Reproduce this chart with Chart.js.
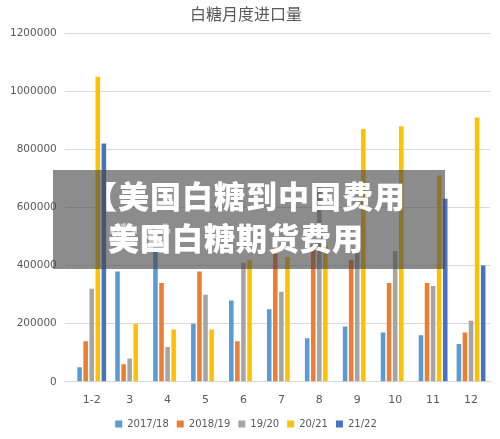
<!DOCTYPE html><html><head><meta charset="utf-8">
<script src="https://cdn.jsdelivr.net/npm/chart.js@4"></script>
<style>body{margin:0;background:#fff;width:500px;height:439px;overflow:hidden;position:relative;font-family:"Noto Sans CJK SC"}
#ov{position:absolute;left:53px;top:170px;width:392px;height:99px;background:rgba(70,70,70,0.62);}
.t{position:absolute;color:#fff;font-weight:900;font-size:31px;white-space:nowrap;letter-spacing:1px}
</style></head><body>
<canvas id="c" width="500" height="439"></canvas>
<div id="ov"><div class="t" style="left:33px;top:2px">【美国白糖到中国费用</div><div class="t" style="left:55px;top:44px">美国白糖期货费用</div><div class="t" style="left:55px;top:44px;opacity:.5">实时白糖期货费用</div></div>
<script>
const categories=["1-2","3","4","5","6","7","8","9","10","11","12"];
const s1718=[50000,380000,460000,200000,280000,250000,150000,190000,170000,160000,130000];
const s1819=[140000,60000,340000,380000,140000,440000,470000,420000,340000,340000,170000];
const s1920=[320000,80000,120000,300000,410000,310000,680000,460000,450000,330000,210000];
const s2021=[1050000,200000,180000,180000,420000,430000,470000,870000,880000,710000,910000];
const s2122=[820000,null,null,null,null,null,null,null,null,630000,400000];
const names=["2017/18","2018/19","19/20","20/21","21/22"];
const colors=["#5b9bd5","#ed7d31","#a5a5a5","#ffc000","#4472c4"];
const data=[s1718,s1819,s1920,s2021,s2122];
new Chart(document.getElementById('c'),{type:'bar',data:{labels:categories,datasets:data.map((d,i)=>({label:names[i],data:d,backgroundColor:colors[i],categoryPercentage:0.8,barPercentage:0.75}))},
options:{responsive:false,animation:false,layout:{padding:{left:2,right:10,top:2,bottom:0}},
plugins:{title:{display:true,text:'白糖月度进口量',color:'#595959',font:{size:16,family:'Noto Sans CJK SC',weight:'normal'},padding:{top:2,bottom:10}},
legend:{position:'bottom',labels:{boxWidth:7,boxHeight:7,padding:8,color:'#595959',font:{size:10,family:'DejaVu Sans'}}}},
scales:{x:{grid:{display:false},border:{color:'#d9d9d9'},ticks:{color:'#595959',padding:4,font:{size:11,family:'DejaVu Sans'}}},
y:{min:0,max:1200000,ticks:{stepSize:200000,padding:8,color:'#595959',font:{size:10.5,family:'DejaVu Sans'},callback:v=>String(v)},grid:{color:'#d9d9d9'},border:{display:false}}}}});
</script></body></html>
